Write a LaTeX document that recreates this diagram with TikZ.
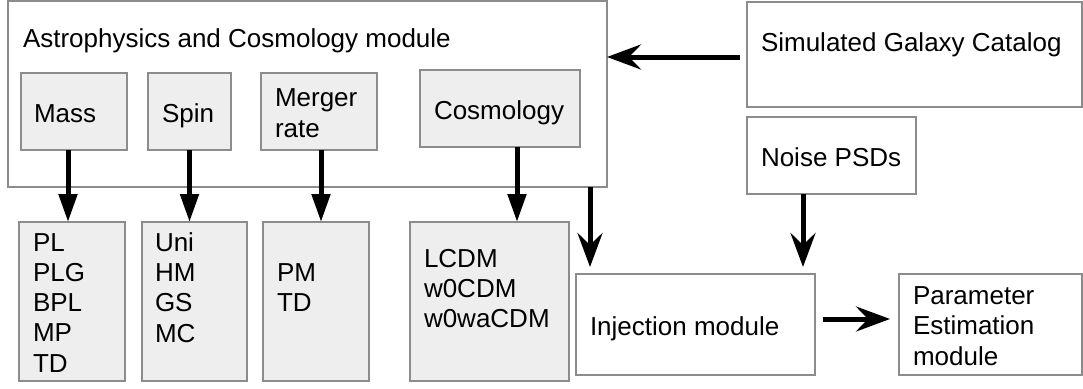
\documentclass[tikz,border=0pt]{standalone}
\usepackage{fontspec}
\setmainfont{Liberation Sans}
\usetikzlibrary{arrows.meta,calc}
\definecolor{bordergray}{HTML}{8C8C8C}
\definecolor{boxgray}{HTML}{EEEEEE}
\begin{document}
\begin{tikzpicture}[x=1pt,y=-1pt,
  box/.style={draw=bordergray, line width=1.5pt, inner sep=0pt, outer sep=0pt, anchor=north west, fill=white},
  graybox/.style={box, fill=boxgray},
  txt/.style={anchor=base west, inner sep=0pt, outer sep=0pt, font=\fontsize{26}{30.5}\selectfont, align=left},
  tri/.style={line width=5pt, -{Triangle[length=28pt,width=18pt]}},
  stl/.style={line width=5pt, -{Stealth[length=34pt,width=25pt,inset=12pt]}}]
\useasboundingbox (0,0) rectangle (1083,388);
% boxes
\node[box, minimum width=599pt, minimum height=186pt] (big) at (8,1) {};
\node[graybox, minimum width=106pt, minimum height=77pt] (mass) at (21,73) {};
\node[graybox, minimum width=83pt, minimum height=77pt] (spin) at (148,73) {};
\node[graybox, minimum width=116pt, minimum height=77pt] (merger) at (261,73) {};
\node[graybox, minimum width=160pt, minimum height=77pt] (cosmo) at (420,70) {};
\node[box, minimum width=335pt, minimum height=105pt] (sgc) at (747,2) {};
\node[box, minimum width=169pt, minimum height=77pt] (noise) at (747,117) {};
\node[box, minimum width=239pt, minimum height=101pt] (inj) at (576,274) {};
\node[box, minimum width=183pt, minimum height=101pt] (pe) at (899,274) {};
\node[graybox, minimum width=106pt, minimum height=159pt] (pl) at (19,222) {};
\node[graybox, minimum width=105pt, minimum height=159pt] (uni) at (142,222) {};
\node[graybox, minimum width=106pt, minimum height=159pt] (pm) at (263,222) {};
\node[graybox, minimum width=159pt, minimum height=159pt] (lcdm) at (410,222) {};
% texts (multi-line texts are anchored at the baseline of their last line)
\node[txt] (tTitle) at (23,47) {Astrophysics and Cosmology module};
\node[txt] (tMass) at (34,122) {Mass};
\node[txt] (tSpin) at (162,122) {Spin};
\node[txt] (tMerger) at (275,137) {Merger\\rate};
\node[txt] (tCosmo) at (434,119) {Cosmology};
\node[txt] (tSgc) at (761,51) {Simulated Galaxy Catalog};
\node[txt] (tNoise) at (761,166) {Noise PSDs};
\node[txt] (tInj) at (590,335) {Injection module};
\node[txt] (tPe) at (913,365) {Parameter\\Estimation\\module};
\node[txt, font=\fontsize{26}{30.2}\selectfont] (tPl) at (33,372) {PL\\PLG\\BPL\\MP\\TD};
\node[txt, font=\fontsize{26}{30.2}\selectfont] (tUni) at (155,342) {Uni\\HM\\GS\\MC};
\node[txt, font=\fontsize{26}{29.5}\selectfont] (tPm) at (277,311) {PM\\TD};
\node[txt, font=\fontsize{26}{30}\selectfont] (tLcdm) at (424,327) {LCDM\\w0CDM\\w0waCDM};
% connectors
\draw[tri] ([xshift=-6pt]mass.south) -- ([xshift=-6pt]mass.south |- pl.north);
\draw[tri] (spin.south) -- (spin.south |- uni.north);
\draw[tri] ([xshift=2pt]merger.south) -- ([xshift=2pt]merger.south |- pm.north);
\draw[tri] ([xshift=17pt]cosmo.south) -- ([xshift=17pt]cosmo.south |- lcdm.north);
\draw[stl, shorten <=7pt] ([yshift=-2.5pt]sgc.west) -- ([yshift=-2.5pt]sgc.west -| big.east);
\draw[stl, shorten >=7pt] ([xshift=14pt]inj.north west |- big.south) -- ([xshift=14pt]inj.north west);
\draw[stl, shorten >=7pt] ([xshift=-28.5pt]noise.south) -- ([xshift=-28.5pt]noise.south |- inj.north);
\draw[stl, shorten <=8pt, shorten >=9pt] ([yshift=5.5pt]inj.east) -- ([yshift=5.5pt]inj.east -| pe.west);
\end{tikzpicture}
\end{document}
